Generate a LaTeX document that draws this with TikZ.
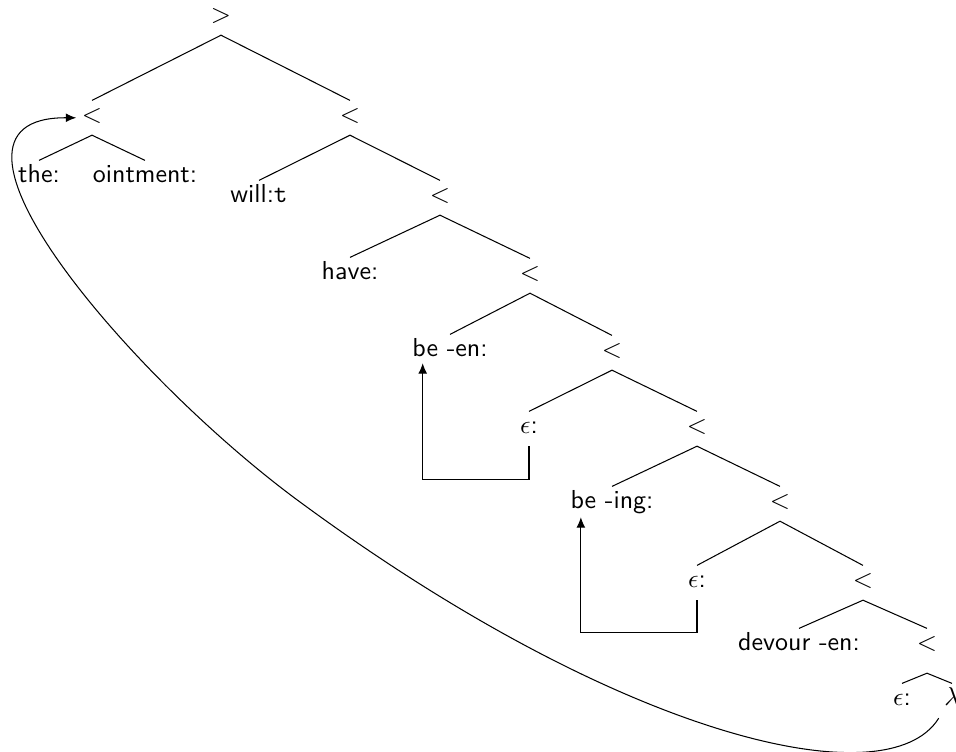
\documentclass[tikz,border=0pt]{standalone}
\usetikzlibrary{arrows.meta,calc}
\begin{document}
\begin{tikzpicture}[x=0.385pt,y=-0.385pt,
  lbl/.style={font=\sffamily, anchor=base, inner sep=2pt, text height=6.5pt, text depth=2.5pt},
  edge/.style={line width=0.4pt},
  mv/.style={line width=0.4pt, -{Latex[length=4pt,width=3.4pt]}}]
\useasboundingbox (0,0) rectangle (956,752);
% nodes
\node[lbl] (root) at (221,23) {$>$};
\node[lbl] (L1) at (92,123) {$<$};
\node[lbl] (R1) at (350,123) {$<$};
\node[lbl] (the) at (39,183) {the:};
\node[lbl] (oint) at (145,183) {ointment:};
\node[lbl] (will) at (259,203) {will:\texttt{t}};
\node[lbl] (n2) at (440,203) {$<$};
\node[lbl] (have) at (350,280) {have:};
\node[lbl] (n3) at (530,281) {$<$};
\node[lbl] (been) at (450,357) {be -en:};
\node[lbl] (n4) at (612,358) {$<$};
\node[lbl] (e1) at (529,434) {$\epsilon$:};
\node[lbl] (n5) at (697,434) {$<$};
\node[lbl] (being) at (612,509) {be -ing:};
\node[lbl] (n6) at (780,509) {$<$};
\node[lbl] (e2) at (697,588) {$\epsilon$:};
\node[lbl] (n7) at (863,588) {$<$};
\node[lbl] (devour) at (799,651) {devour -en:};
\node[lbl] (n8) at (927,651) {$<$};
\node[lbl] (e3) at (902,706) {$\epsilon$:};
\node[lbl] (lam) at (952,706) {$\lambda$};
% tree edges
\draw[edge] (L1.north) -- (root.south) -- (R1.north);
\draw[edge] (the.north) -- (L1.south) -- (oint.north);
\draw[edge] (will.north) -- (R1.south) -- (n2.north);
\draw[edge] (have.north) -- (n2.south) -- (n3.north);
\draw[edge] (been.north) -- (n3.south) -- (n4.north);
\draw[edge] (e1.north) -- (n4.south) -- (n5.north);
\draw[edge] (being.north) -- (n5.south) -- (n6.north);
\draw[edge] (e2.north) -- (n6.south) -- (n7.north);
\draw[edge] (devour.north) -- (n7.south) -- (n8.north);
\draw[edge] (e3.north) -- ($(n8.south)+(0,10)$) -- (lam.north);
% movement arrows
\draw[mv] (e1.south) -- ++(0,33) -| ($(been.south west)+(16,-6)$);
\draw[mv] (e2.south) -- ++(0,32) -| ($(being.south west)+(16,-4)$);
\coordinate (mid) at (300,502);
\draw[mv] (lam.south west) .. controls (888,800) and (622,739) .. (mid)
  .. controls (131,378) and (-93,117) .. (L1.west);
\end{tikzpicture}
\end{document}
